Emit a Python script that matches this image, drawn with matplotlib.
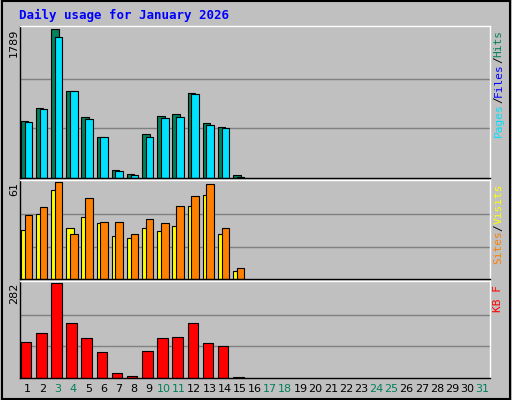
import matplotlib
matplotlib.use('Agg')
import matplotlib.pyplot as plt
import numpy as np

days = np.arange(1, 32)
hits = [684, 842, 1789, 1040, 733, 490, 101, 53, 526, 745, 769, 1024, 660, 611, 32]
files = [672, 830, 1692, 1040, 708, 490, 89, 40, 490, 720, 733, 1012, 635, 599, 12]
sites = [31, 41, 56, 32, 39, 35, 27, 26, 32, 30, 33, 46, 53, 28, 5]
visits = [40, 45, 61, 28, 51, 36, 36, 28, 38, 35, 46, 52, 60, 32, 7]
kbytes = [108, 133, 282, 164, 118, 77, 15, 6, 81, 118, 121, 164, 105, 96, 2]
weekend = [3, 4, 10, 11, 17, 18, 24, 25, 31]

bg = '#C0C0C0'
fig = plt.figure(figsize=(5.12, 4.0), dpi=100, facecolor=bg)
fig.patches.append(plt.Rectangle((0.003, 0.003), 0.994, 0.994, transform=fig.transFigure,
                                 fill=False, edgecolor='black', linewidth=1.5))
fig.text(0.037, 0.962, 'Daily usage for January 2026', color='#0000FF',
         family='DejaVu Sans Mono', weight='bold', fontsize=9, va='center')

left, width = 0.039, 0.918
ax1 = fig.add_axes([left, 0.555, width, 0.38])
ax2 = fig.add_axes([left, 0.3025, width, 0.2475])
ax3 = fig.add_axes([left, 0.055, width, 0.2425])

ec = dict(edgecolor='black', linewidth=0.8)
n = len(hits)
d = days[:n]
ax1.bar(d - 0.2, hits, width=0.5, color='#00805C', **ec)
ax1.bar(d + 0.05, files, width=0.5, color='#00E0FF', **ec)
ax2.bar(d - 0.2, sites, width=0.5, color='#FFFF00', **ec)
ax2.bar(d + 0.05, visits, width=0.5, color='#FF8000', **ec)
ax3.bar(d - 0.1, kbytes, width=0.7, color='#FF0000', **ec)

for ax, top, lab in [(ax1, max(hits), '1789'), (ax2, max(visits), '61'), (ax3, max(kbytes), '282')]:
    ax.set_facecolor(bg)
    ax.set_xlim(0.5, 31.5)
    ax.set_ylim(0, top * 1.02)
    for f in (1 / 3, 2 / 3):
        ax.axhline(top * f, color='#808080', linewidth=1, zorder=0)
    ax.set_yticks([])
    ax.set_xticks([])
    for s in ax.spines.values():
        s.set_linewidth(1)
    ax.spines['top'].set_color('white')
    ax.spines['right'].set_color('white')
    ax.spines['left'].set_color('black')
    ax.spines['bottom'].set_color('black')
    ax.text(-0.013, 0.98, lab, transform=ax.transAxes, rotation=90, ha='center', va='top',
            fontsize=8)

def side(ax, parts):
    # parts listed bottom to top; text reads upward
    char_px = 6.67
    h_px = ax.get_position().height * 400
    total = sum(len(t) for t, c in parts) * char_px
    y = 1.0 - 4 / h_px - total / h_px
    for t, c in parts:
        ax.text(1.018, y, t, transform=ax.transAxes, rotation=90, ha='center', va='bottom',
                color=c, family='DejaVu Sans Mono', fontsize=8)
        y += len(t) * char_px / h_px

side(ax1, [('Pages', '#00E0FF'), ('/', 'black'), ('Files', '#0000FF'), ('/', 'black'), ('Hits', '#00805C')])
side(ax2, [('Sites', '#FF8000'), ('/', 'black'), ('Visits', '#FFFF00')])
side(ax3, [('KB F', '#FF0000')])

ax3.set_xticks(days)
ax3.set_xticklabels([str(x) for x in days], fontsize=8)
ax3.tick_params(axis='x', length=0, pad=4)
for t, x in zip(ax3.get_xticklabels(), days):
    t.set_color('#00805C' if x in weekend else 'black')

fig.savefig('out.png', dpi=100, facecolor=bg)
